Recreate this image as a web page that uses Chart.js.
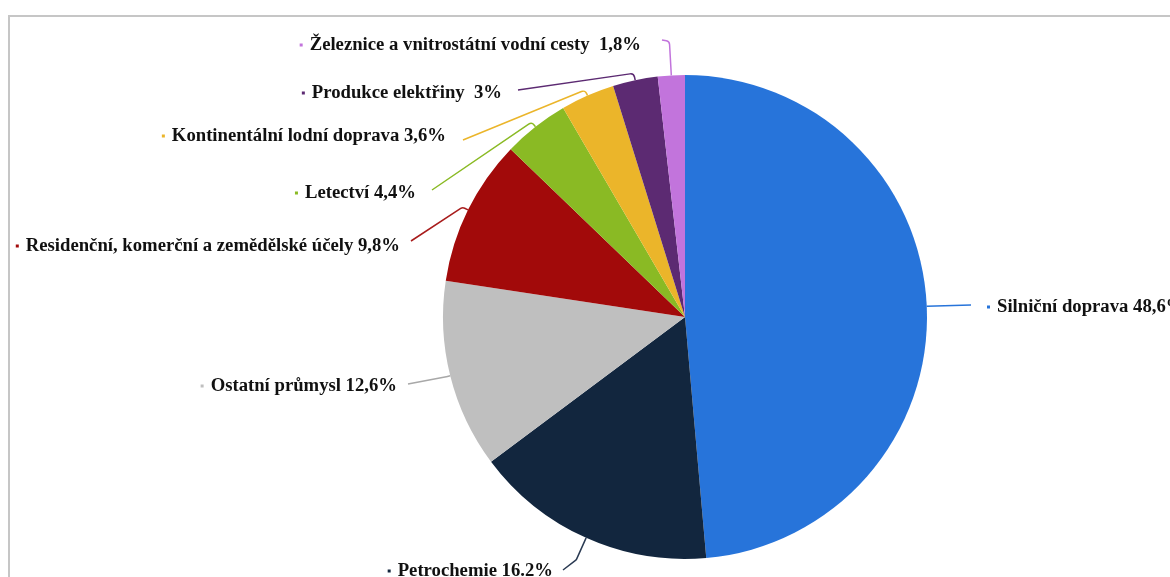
<!DOCTYPE html>
<html>
<head>
<meta charset="utf-8">
<script src="https://cdn.jsdelivr.net/npm/chart.js@4.4.1/dist/chart.umd.min.js"></script>
<style>
  html, body { margin: 0; padding: 0; background: #fff; }
  #wrap { position: relative; width: 1170px; height: 577px; overflow: hidden; }
  #frame { position: absolute; left: 8px; top: 15px; width: 1300px; height: 700px;
           border: 2px solid #c6c6c6; box-sizing: border-box; }
  canvas { position: absolute; left: 0; top: 0; }
</style>
</head>
<body>
<div id="wrap">
  <div id="frame"></div>
  <canvas id="pie" width="1170" height="577"></canvas>
</div>
<script>
// podíly spotřeby ropy podle odvětví (%)
const sectors = [
  "Silniční doprava",
  "Petrochemie",
  "Ostatní průmysl",
  "Residenční, komerční a zemědělské účely",
  "Letectví",
  "Kontinentální lodní doprava",
  "Produkce elektřiny",
  "Železnice a vnitrostátní vodní cesty"
];
const shares = [48.6, 16.2, 12.6, 9.8, 4.4, 3.6, 3, 1.8];
const decimalMarks = [",", ".", ",", ",", ",", ",", ",", ","];
const gaps = [" ", " ", " ", " ", " ", " ", "  ", "  "];
const sliceColors = ["#2774da", "#12263e", "#bfbfbf", "#a20a0a", "#8aba24", "#ebb52a", "#5c2a72", "#c274dc"];
const lineColors  = ["#2774da", "#2a3a52", "#a8a8a8", "#a81c1c", "#8aba24", "#ebb52a", "#5c2a72", "#c274dc"];

// umístění popisků vůči středu koláče: ext = radiální výběžek, end = konec vodicí čáry, text = kotva textu
const labelLayout = [
  { ext: 0,  end: [286, -12],  text: [312, -10],  align: "left"  },
  { ext: 24, end: [-122, 253], text: [-132, 254], align: "right" },
  { ext: 4,  end: [-277, 67],  text: [-288, 69],  align: "right" },
  { ext: 6,  end: [-274, -76], text: [-285, -71], align: "right" },
  { ext: 6,  end: [-253, -127],text: [-269, -124],align: "right" },
  { ext: 6,  end: [-222, -177],text: [-239, -181],align: "right" },
  { ext: 7,  end: [-167, -227],text: [-183, -224],align: "right" },
  { ext: 34, end: [-23, -277], text: [-44, -272], align: "right" }
];

const labelFont = "bold 18.7px 'Liberation Serif', 'Times New Roman', serif";

const leaderLabels = {
  id: "leaderLabels",
  afterDatasetsDraw(chart) {
    const ctx = chart.ctx;
    const meta = chart.getDatasetMeta(0);
    ctx.save();
    ctx.font = labelFont;
    ctx.textBaseline = "middle";
    meta.data.forEach((arc, i) => {
      const { x: cx, y: cy, startAngle, endAngle, outerRadius } = arc.getProps(["x", "y", "startAngle", "endAngle", "outerRadius"], true);
      const mid = (startAngle + endAngle) / 2;
      const lay = labelLayout[i];
      const ax = cx + Math.cos(mid) * outerRadius;
      const ay = cy + Math.sin(mid) * outerRadius;
      const ex = cx + Math.cos(mid) * (outerRadius + lay.ext);
      const ey = cy + Math.sin(mid) * (outerRadius + lay.ext);
      const lx = cx + lay.end[0];
      const ly = cy + lay.end[1];

      ctx.strokeStyle = lineColors[i];
      ctx.lineWidth = 1.5;
      ctx.lineJoin = "round";
      ctx.beginPath();
      ctx.moveTo(ax, ay);
      if (lay.ext > 0) {
        ctx.arcTo(ex, ey, lx, ly, Math.min(4, lay.ext));
      }
      ctx.lineTo(lx, ly);
      ctx.stroke();

      const txt = sectors[i] + gaps[i] + String(shares[i]).replace(".", decimalMarks[i]) + "%";
      const tw = ctx.measureText(txt).width;
      const tx = cx + lay.text[0];
      const ty = cy + lay.text[1];
      const left = lay.align === "left" ? tx : tx - tw;
      ctx.fillStyle = "#111";
      ctx.textAlign = "left";
      ctx.fillText(txt, left, ty);
      // značka série před textem
      ctx.fillStyle = sliceColors[i];
      ctx.fillRect(left - 10, ty - 1.5, 3, 3);
    });
    ctx.restore();
  }
};

new Chart(document.getElementById("pie"), {
  type: "pie",
  data: {
    labels: sectors,
    datasets: [{
      data: shares,
      backgroundColor: sliceColors,
      borderWidth: 0,
      hoverOffset: 0,
      offset: 0
    }]
  },
  plugins: [leaderLabels],
  options: {
    responsive: false,
    animation: false,
    layout: { padding: { left: 443, right: 243, top: 75, bottom: 18 } },
    plugins: {
      legend: { display: false },
      tooltip: { enabled: false }
    }
  }
});
</script>
</body>
</html>
